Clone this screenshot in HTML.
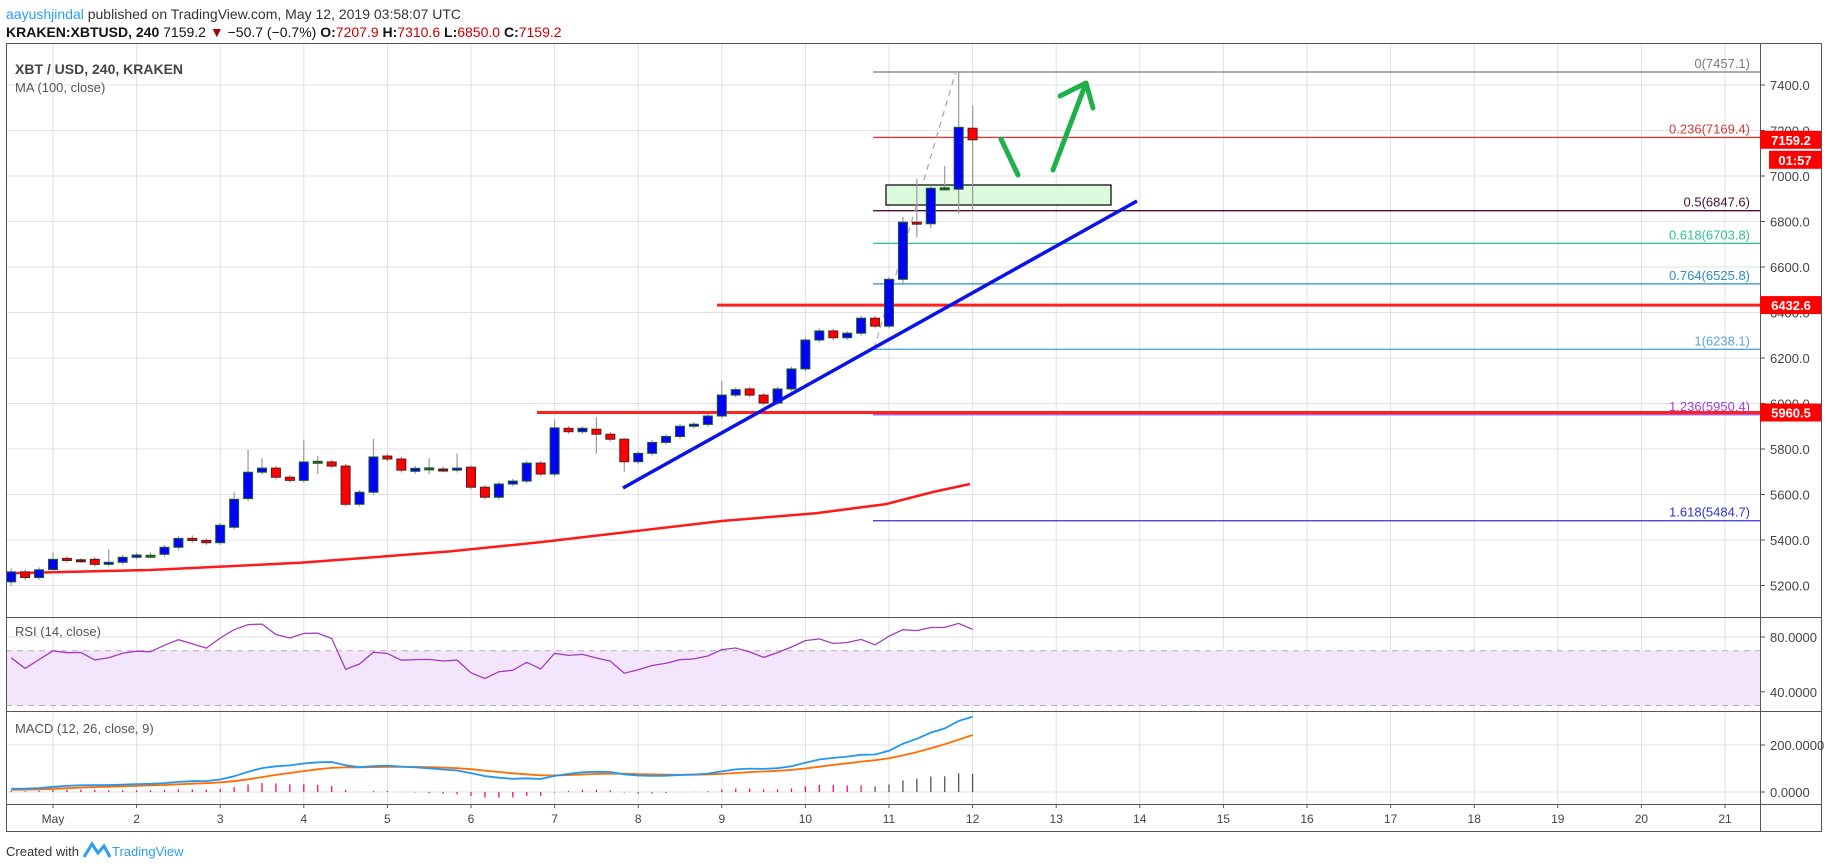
<!DOCTYPE html>
<html><head><meta charset="utf-8">
<style>
html,body{margin:0;padding:0;background:#fff;}
svg{display:block;font-family:"Liberation Sans",sans-serif;}
</style></head>
<body>
<svg id="s" width="1828" height="868" viewBox="0 0 1828 868" xmlns="http://www.w3.org/2000/svg">
<rect width="1828" height="868" fill="#fff"/>
<g id="grid"></g>
<g id="plot"></g>
<g id="txt"></g>
</svg>
<script>
const NS="http://www.w3.org/2000/svg";
function el(p,t,a,txt){const e=document.createElementNS(NS,t);for(const k in a)e.setAttribute(k,a[k]);if(txt!==undefined)e.textContent=txt;document.getElementById(p).appendChild(e);return e;}
const L=6,R=1760,RO=1821,T=43,MB=617,RB=711,MCB=804,B=831;
const yP=p=>85+(7400-p)*0.2275;
const xI=i=>53+i*83.6/6;
const yR=r=>637+(80-r)*1.37;
const yM=v=>792-v*0.235;
// grid
for(let d=1;d<=21;d++){const x=53+(d-1)*83.6;el("grid","line",{x1:x,y1:T,x2:x,y2:MCB,stroke:"#e1e1e1"});el("grid","line",{x1:x,y1:MCB,x2:x,y2:MCB+4,stroke:"#555"});
 el("txt","text",{x:x,y:823,"font-size":12,fill:"#444","text-anchor":"middle"},d==1?"May":String(d));}
for(let p=5200;p<=7400;p+=200){const y=yP(p);el("grid","line",{x1:L,y1:y,x2:R,y2:y,stroke:"#e1e1e1"});el("grid","line",{x1:R,y1:y,x2:R+5,y2:y,stroke:"#555"});
 el("txt","text",{x:1770,y:y+5,"font-size":13,fill:"#444"},p.toFixed(1));}
[[80,"80.0000"],[40,"40.0000"]].forEach(a=>{const y=yR(a[0]);el("grid","line",{x1:L,y1:y,x2:R,y2:y,stroke:"#e1e1e1"});el("grid","line",{x1:R,y1:y,x2:R+5,y2:y,stroke:"#555"});el("txt","text",{x:1770,y:y+5,"font-size":13,fill:"#444"},a[1]);});
[[200,"200.0000"],[0,"0.0000"]].forEach(a=>{const y=yM(a[0]);el("grid","line",{x1:L,y1:y,x2:R,y2:y,stroke:"#e1e1e1"});el("grid","line",{x1:R,y1:y,x2:R+5,y2:y,stroke:"#555"});el("txt","text",{x:1770,y:y+5,"font-size":13,fill:"#444"},a[1]);});
// RSI band
el("grid","rect",{x:L,y:yR(70),width:R-L,height:yR(30)-yR(70),fill:"#f3e6fc"});
el("grid","line",{x1:L,y1:yR(70),x2:R,y2:yR(70),stroke:"#b9a9c0","stroke-dasharray":"6,5"});
el("grid","line",{x1:L,y1:yR(30),x2:R,y2:yR(30),stroke:"#b9a9c0","stroke-dasharray":"6,5"});
// data
const D=[[5216,5260,5275,5200],[5260,5235],[5235,5269,5280,5225],[5270,5315,5346],[5319,5310],[5313,5311,5320,5300],[5315,5293],[5293,5302,5359],[5302,5324],[5324,5334],[5332,5333,5345,5320],[5337,5368],[5368,5407],[5407,5398,5420],[5398,5388],[5388,5465],[5456,5579,5610],[5582,5698,5797],[5698,5716,5760],[5716,5676],[5676,5662],[5662,5743,5841],[5743,5746,5770,5690],[5743,5725],[5725,5557],[5557,5610],[5610,5765,5845],[5769,5756],[5756,5707],[5702,5715],[5716,5717,5760,5690],[5712,5707],[5707,5716,5780],[5720,5632],[5632,5588],[5588,5646],[5646,5659],[5659,5738],[5738,5690],[5690,5893,5930],[5891,5876],[5876,5891],[5887,5865,5940,5780],[5865,5843],[5843,5744,5850,5700],[5744,5781],[5781,5829],[5829,5855],[5855,5900],[5900,5909],[5908,5945],[5945,6037,6100],[6037,6061],[6064,6037],[6037,6002],[6002,6064],[6064,6152],[6152,6279],[6279,6319],[6319,6289],[6289,6309],[6309,6375],[6375,6340],[6340,6546],[6546,6797,6820,6520],[6797,6790,6987,6730],[6790,6946,6960,6770],[6946,6948,7044,6940],[6942,7214,7457,6836],[7210,7159,7310,6850]];
// indicators with synthetic history
const hist=[];for(let k=0;k<80;k++)hist.push(5120+k*1.2+Math.sin(k*0.9)*25);
const closes=hist.concat(D.map(d=>d[1]));
const N0=hist.length;
// RSI
let ag=0,al=0;const rsi=[];
for(let k=1;k<closes.length;k++){const ch=closes[k]-closes[k-1];const g=Math.max(ch,0),l=Math.max(-ch,0);
 if(k<=14){ag+=g/14;al+=l/14;}else{ag=(ag*13+g)/14;al=(al*13+l)/14;} rsi[k]=100-100/(1+ag/(al||1e-9));}
// MACD
function ema(arr,n){const a=2/(n+1);const o=[];let v=arr[0];for(let k=0;k<arr.length;k++){v=k?arr[k]*a+v*(1-a):arr[0];o.push(v);}return o;}
const e12=ema(closes,12),e26=ema(closes,26);const macd=closes.map((c,k)=>e12[k]-e26[k]);const sig=ema(macd,9);
let rp="",mp="",sp="";
D.forEach((d,j)=>{const k=N0+j,i=j-3,x=xI(i);if(x<L+2)return;
 rp+=(rp?"L":"M")+x.toFixed(1)+","+yR(rsi[k]).toFixed(1);
 mp+=(mp?"L":"M")+x.toFixed(1)+","+yM(macd[k]).toFixed(1);
 sp+=(sp?"L":"M")+x.toFixed(1)+","+yM(sig[k]).toFixed(1);
 const h=macd[k]-sig[k];el("plot","line",{x1:x,y1:yM(0),x2:x,y2:yM(h),stroke:i>=59?"#555":"#ff0a6c","stroke-width":1.3});
});
el("plot","path",{d:rp,fill:"none",stroke:"#a43bbf","stroke-width":1.3});
el("plot","path",{d:sp,fill:"none",stroke:"#ff6d00","stroke-width":1.8});
el("plot","path",{d:mp,fill:"none",stroke:"#2196f3","stroke-width":1.8});
// MA100
const ma=[[9,5254],[150,5268],[300,5300],[450,5350],[542,5391],[723,5484],[816,5518],[886,5558],[933,5611],[970,5646]];
el("plot","path",{d:"M"+ma.map(p=>p[0]+","+yP(p[1]).toFixed(1)).join("L"),fill:"none",stroke:"#ff0000","stroke-width":2.5,opacity:0.9});
// fib
const FX=873;
const fib=[["0",7457.1,"#787b86"],["0.236",7169.4,"#d23b3b"],["0.5",6847.6,"#4a1030"],["0.618",6703.8,"#2fbf8f"],["0.764",6525.8,"#2b8bcc"],["1",6238.1,"#5aa5da"],["1.236",5950.4,"#a040e0"],["1.618",5484.7,"#3232d4"]];
fib.forEach(f=>{const y=yP(f[1]);el("plot","line",{x1:FX,y1:y,x2:R,y2:y,stroke:f[2],"stroke-width":1.3});
 el("txt","text",{x:1750,y:y-4,"font-size":13,fill:f[2],"text-anchor":"end"},f[0]+"("+f[1].toFixed(1)+")");});
el("plot","line",{x1:874,y1:349,x2:956,y2:71,stroke:"#aaa","stroke-width":1.3,"stroke-dasharray":"6,5"});
// red horizontal lines
el("plot","line",{x1:717,y1:yP(6432.6),x2:R,y2:yP(6432.6),stroke:"#ff2020","stroke-width":3});
el("plot","line",{x1:537,y1:yP(5960.5),x2:R,y2:yP(5960.5),stroke:"#ff2020","stroke-width":3});
// rect
el("plot","rect",{x:886,y:185,width:225,height:20,fill:"#dcfadc",stroke:"#111","stroke-width":1.3});
// candles
D.forEach((d,j)=>{const i=j-3,x=xI(i);const o=d[0],c=d[1];const h=d[2]||Math.max(o,c)+10,l=d[3]||Math.min(o,c)-10;
 el("plot","line",{x1:x,y1:yP(h),x2:x,y2:yP(l),stroke:"#9a9a9a","stroke-width":1.2});
 const up=c>=o;const y1=yP(Math.max(o,c)),y2=yP(Math.min(o,c));const hh=Math.max(y2-y1,2);
 el("plot","rect",{x:x-4.5,y:y1,width:9,height:hh,fill:Math.abs(c-o)<6?(up?"#1b5e20":"#5d1a1a"):(up?"#0000ff":"#ff0000"),stroke:up?"#1b5e20":"#5d1a1a","stroke-width":1});
});
// trendline
el("plot","line",{x1:623,y1:488,x2:1137,y2:201,stroke:"#0a14e8","stroke-width":3.5});
// green arrows
el("plot","path",{d:"M1001,139 L1018,175",stroke:"#1fb04a","stroke-width":5,fill:"none","stroke-linecap":"round"});
el("plot","path",{d:"M1053,170 L1086,83 M1060,96 L1086,83 L1093,108",stroke:"#1fb04a","stroke-width":5,fill:"none","stroke-linecap":"round","stroke-linejoin":"round"});
// borders
el("plot","rect",{x:L+0.5,y:T+0.5,width:RO-L,height:B-T,fill:"none",stroke:"#555"});
[MB,RB,MCB].forEach(y=>el("plot","line",{x1:L,y1:y+0.5,x2:RO,y2:y+0.5,stroke:"#555"}));
el("plot","line",{x1:R+0.5,y1:T,x2:R+0.5,y2:B,stroke:"#555"});
// price tags
function tag(y,t,x0){el("txt","rect",{x:x0||R,y:y-9,width:(x0?53:61),height:18,fill:"#ff0000"});el("txt","text",{x:(x0||R)+(x0?26:31),y:y+5,"font-size":13,"font-weight":"bold",fill:"#fff","text-anchor":"middle"},t);}
tag(yP(7159.2),"7159.2");tag(yP(7159.2)+20,"01:57",1769);tag(yP(6432.6),"6432.6");tag(yP(5960.5),"5960.5");
// header text
const h1=el("txt","text",{x:6,y:19,"font-size":14,fill:"#333"});
h1.innerHTML='<tspan fill="#2a9df4">aayushjindal</tspan> published on TradingView.com, May 12, 2019 03:58:07 UTC';
const h2=el("txt","text",{x:6,y:37,"font-size":14,fill:"#111"});
h2.innerHTML='<tspan font-weight="bold">KRAKEN:XBTUSD, 240</tspan>  7159.2 <tspan fill="#a00">▼</tspan> −50.7 (−0.7%) <tspan font-weight="bold">O:</tspan><tspan fill="#c00">7207.9</tspan> <tspan font-weight="bold">H:</tspan><tspan fill="#c00">7310.6</tspan> <tspan font-weight="bold">L:</tspan><tspan fill="#c00">6850.0</tspan> <tspan font-weight="bold">C:</tspan><tspan fill="#c00">7159.2</tspan>';
el("txt","text",{x:15,y:74,"font-size":14,"font-weight":"bold",fill:"#444"},"XBT / USD, 240, KRAKEN");
el("txt","text",{x:15,y:92,"font-size":13,fill:"#555"},"MA (100, close)");
el("txt","text",{x:15,y:636,"font-size":13,fill:"#555"},"RSI (14, close)");
el("txt","text",{x:15,y:733,"font-size":13,fill:"#555"},"MACD (12, 26, close, 9)");
el("txt","text",{x:6,y:856,"font-size":13,fill:"#333"},"Created with");
el("txt","path",{d:"M84,857 L92,844 L98,853 L104,846 L110,857",fill:"none",stroke:"#2a9df4","stroke-width":3});
el("txt","text",{x:112,y:856,"font-size":13,fill:"#2a9df4"},"TradingView");
</script>
</body></html>
